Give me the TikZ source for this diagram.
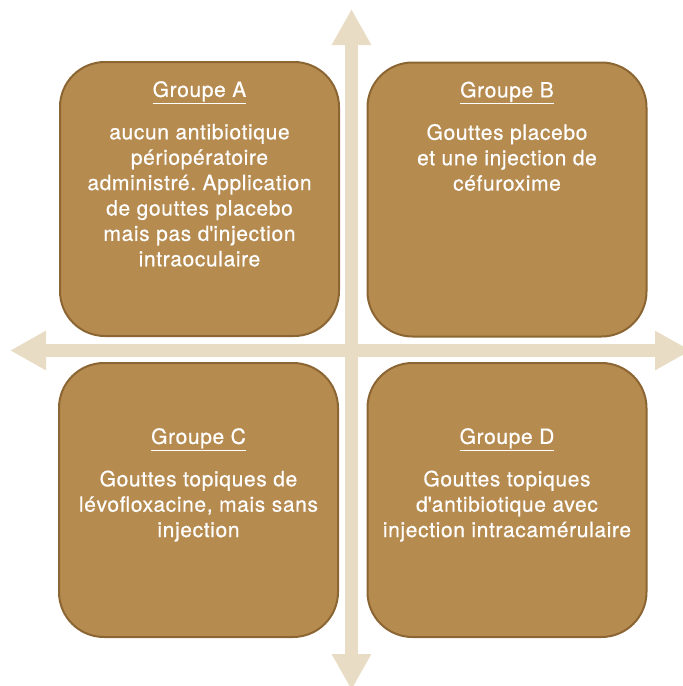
\documentclass[tikz,border=0pt]{standalone}
\usepackage{fontspec}
\setmainfont{TeX Gyre Heros}[LetterSpace=3, FakeBold=0.6]
\usetikzlibrary{arrows.meta,positioning}
\definecolor{box area}{RGB}{182,139,80}
\definecolor{box edge}{RGB}{139,101,50}
\definecolor{axis color}{RGB}{232,220,197}
\def\apos{\textquotesingle}
\frenchspacing
\tikzset{box/.style={draw=box edge, line width=2pt, fill=box area, rounded corners=45pt,
        minimum width=279pt, minimum height=274pt, inner sep=0pt},
    boxtext/.style={text=white, align=center, inner sep=0pt,
        font=\fontsize{21}{25.4}\selectfont},
    axis/.style={draw=axis color, line width=12.5pt,
        {Triangle[width=37pt,length=36pt]}-{Triangle[width=37pt,length=36pt]}}}

\begin{document}
\begin{tikzpicture}[x=1pt, y=-1pt]
\useasboundingbox (0,0) rectangle (683,686);

% axes
\coordinate (axN) at (351.5,9);
\coordinate (axS) at (351.5,690);
\coordinate (axW) at (10,350.5);
\coordinate (axE) at (691,350.5);
\draw[axis] (axN) -- (axS);
\draw[axis] (axW) -- (axE);

% the four groups
\node[box] (boxA) at (199.5,199) {};
\node[box] (boxB) at (507,199.5) {};
\node[box] (boxC) at (198.5,500) {};
\node[box] (boxD) at (507,500) {};

\node[boxtext, below=20pt of boxA.north] (textA) {\underline{Groupe A}\\[17pt]
    aucun antibiotique\\ périopératoire\\ administré. Application\\
    de gouttes placebo\\ mais pas d\apos injection\\ intraoculaire};
\node[boxtext, below=20pt of boxB.north] (textB) {\underline{Groupe B}\\[17pt]
    Gouttes placebo\\ et une injection de\\ céfuroxime};
\node[boxtext, below=66pt of boxC.north] (textC) {\underline{Groupe C}\\[17pt]
    Gouttes topiques de\\ lévofloxacine, mais sans\\ injection};
\node[boxtext, below=66pt of boxD.north] (textD) {\underline{Groupe D}\\[17pt]
    Gouttes topiques\\ d\apos antibiotique avec\\ injection intracamérulaire};
%\node at (current bounding box.center) {};

\end{tikzpicture}
\end{document}
